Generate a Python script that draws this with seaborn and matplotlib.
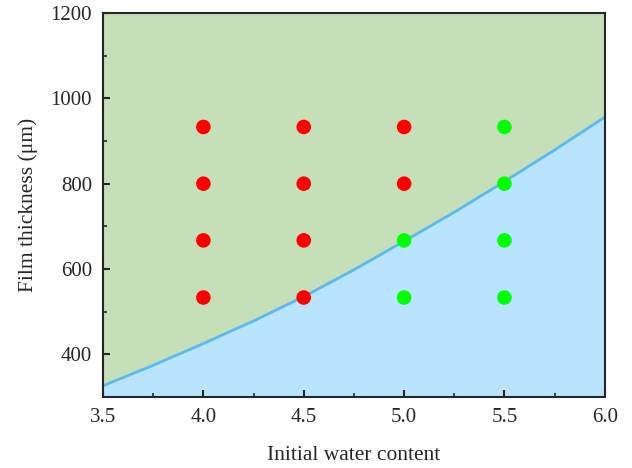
import pandas as pd
import matplotlib.pyplot as plt
import seaborn as sns

# boundary curve
curve_x = [3.5, 3.75, 4.0, 4.25, 4.5, 4.75, 5.0, 5.25, 5.5, 5.75, 6.0]
curve_y = [326, 374, 425, 478, 535, 598, 665, 733, 805, 879, 956]

# experiment points
water = [4.0, 4.0, 4.0, 4.0, 4.5, 4.5, 4.5, 4.5, 5.0, 5.0, 5.0, 5.0, 5.5, 5.5, 5.5, 5.5]
thickness = [933, 800, 667, 533] * 4
state = ["red"] * 8 + ["red", "red", "green", "green"] + ["green"] * 4

sns.set_style("ticks")
plt.rcParams['font.family'] = ['Liberation Serif', 'DejaVu Serif']

fig = plt.figure(figsize=(6.32, 4.68), dpi=100)
ax = fig.add_axes([0.163, 0.152, 0.794, 0.820])

# two regions
ax.fill_between(curve_x, curve_y, 1200, color="#c5dfb8", lw=0, zorder=0)
ax.fill_between(curve_x, 300, curve_y, color="#b8e4fd", lw=0, zorder=0)

sns.lineplot(x=curve_x, y=curve_y, color="#5bb8f0", lw=2, ax=ax, zorder=2)

df = pd.DataFrame({"water": water, "thickness": thickness, "state": state})
sns.scatterplot(data=df, x="water", y="thickness", hue="state",
                palette={"red": "#ff0000", "green": "#00ff00"},
                s=110, edgecolor="none", legend=False, ax=ax, zorder=3)

ax.set_xlim(3.5, 6.0)
ax.set_ylim(300, 1200)
ax.set_xticks([3.5, 4.0, 4.5, 5.0, 5.5, 6.0])
ax.set_xticklabels(["3.5", "4.0", "4.5", "5.0", "5.5", "6.0"])
ax.set_yticks([400, 600, 800, 1000, 1200])
ax.set_xticks([3.75, 4.25, 4.75, 5.25, 5.75], minor=True)
ax.set_yticks([500, 700, 900, 1100], minor=True)
ax.tick_params(which="major", direction="in", length=5, width=1.5, labelsize=15, pad=8)
ax.tick_params(which="minor", direction="in", length=3, width=1.2)
for sp in ax.spines.values():
    sp.set_linewidth(1.5)

ax.set_xlabel("Initial water content", fontsize=15.5, labelpad=14)
ax.set_ylabel("Film thickness (μm)", fontsize=15.5, labelpad=9)

fig.savefig("out.png", dpi=100)
